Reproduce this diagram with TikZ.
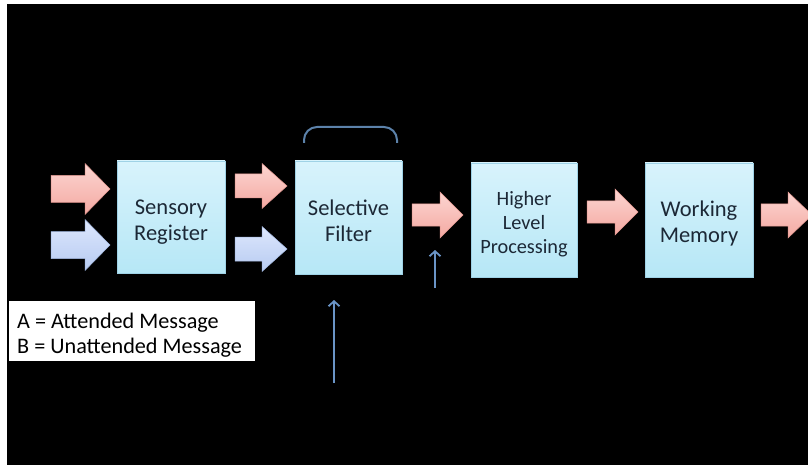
\documentclass[tikz,border=0pt]{standalone}
\usepackage{fontspec}
\setmainfont{Carlito}
\usetikzlibrary{arrows.meta}

\definecolor{boxtop}{HTML}{D8F3FC}
\definecolor{boxbot}{HTML}{B6E7F6}
\definecolor{boxedge}{HTML}{9FD2E6}
\definecolor{boxtext}{HTML}{1C2836}
\definecolor{pinktop}{HTML}{FCD5D1}
\definecolor{pinkbot}{HTML}{F4A9A2}
\definecolor{pinkedge}{HTML}{E2968F}
\definecolor{bluetop}{HTML}{DDE7FD}
\definecolor{bluebot}{HTML}{B7CBF1}
\definecolor{blueedge}{HTML}{A3B9E3}
\definecolor{cue}{HTML}{6A94C6}
\definecolor{bracket}{HTML}{5C82AA}

% block arrow: #1 tail x, #2 tip x, #3 head base x, #4 centre y,
% #5 half shaft width, #6 half head width, #7 style
\newcommand\blockarrow[7]{%
  \path[#7] (#1,#4-#5) -- (#3,#4-#5) -- (#3,#4-#6) -- (#2,#4)
    -- (#3,#4+#6) -- (#3,#4+#5) -- (#1,#4+#5) -- cycle;}

\begin{document}
\begin{tikzpicture}[x=1pt,y=-1pt,
  stage/.style={rectangle, draw=boxedge, line width=0.6pt,
    top color=boxtop, bottom color=boxbot, inner sep=0pt},
  stagetext/.style={align=center, text=boxtext, inner sep=0pt,
    font=\fontsize{22.5}{26}\selectfont},
  attended/.style={top color=pinktop, bottom color=pinkbot,
    draw=pinkedge, line width=0.5pt},
  unattended/.style={top color=bluetop, bottom color=bluebot,
    draw=blueedge, line width=0.5pt},
  cuearrow/.style={draw=cue, line width=1.8pt,
    -{Straight Barb[length=5pt,width=11pt,line width=1.8pt]}},
  legendbox/.style={rectangle, fill=white, draw=none, inner sep=0pt}]

\useasboundingbox (0,0) rectangle (808,465);
\fill[white] (0,0) rectangle (808,465);
\fill[black] (7,4) rectangle (808,465);
\clip (7,4) rectangle (808,465);

% processing stages
\node[stage, minimum width=108, minimum height=112] (sensory) at (171,217) {};
\node[stage, minimum width=107, minimum height=113] (filter) at (348.5,217.5) {};
\node[stage, minimum width=106, minimum height=114] (higher) at (524,220) {};
\node[stage, minimum width=108, minimum height=114] (working) at (699,220) {};
\node[stagetext] (sensorylabel) at ([yshift=-5pt]sensory.center) {Sensory\\Register};
\node[stagetext] (filterlabel) at ([yshift=-3pt]filter.center) {Selective\\Filter};
\node[stagetext, font=\fontsize{20.3}{24}\selectfont] (higherlabel) at ([yshift=-4pt]higher.center) {Higher\\Level\\Processing};
\node[stagetext] (workinglabel) at ([yshift=-4pt]working.center) {Working\\Memory};

% incoming messages A (pink) and B (blue)
\blockarrow{51}{110}{85}{189}{13.5}{25.5}{attended}
\blockarrow{51}{110}{85}{245}{13.5}{25.5}{unattended}
\blockarrow{235}{287}{262}{186}{12}{22.5}{attended}
\blockarrow{235}{287}{262}{249}{12}{22.5}{unattended}
% only the attended message passes on
\blockarrow{412}{463}{440}{215}{11}{23}{attended}
\blockarrow{587}{638}{615}{212}{11}{23}{attended}
\blockarrow{761}{812}{788}{215}{11}{23}{attended}

% bracket over the filter
\draw[bracket, line width=2pt, rounded corners=13pt]
  (304,143) -- (304,127) -- (397,127) -- (397,143);

% cue arrows
\coordinate (cueA) at (435,288);
\coordinate (cueAtip) at (435,250);
\coordinate (cueB) at (334,383);
\coordinate (cueBtip) at (334,300);
\draw[cuearrow] (cueA) -- (cueAtip);
\draw[cuearrow] (cueB) -- (cueBtip);

% legend
\node[legendbox, anchor=north west, minimum width=246, minimum height=60] (legend) at (9,301) {};
\node[anchor=west, align=left, inner sep=0pt, text=black,
  font=\fontsize{22.2}{25}\selectfont] (legendtext) at ([xshift=8pt,yshift=-4pt]legend.west)
  {A = Attended Message\\B = Unattended Message};
\end{tikzpicture}
\end{document}
